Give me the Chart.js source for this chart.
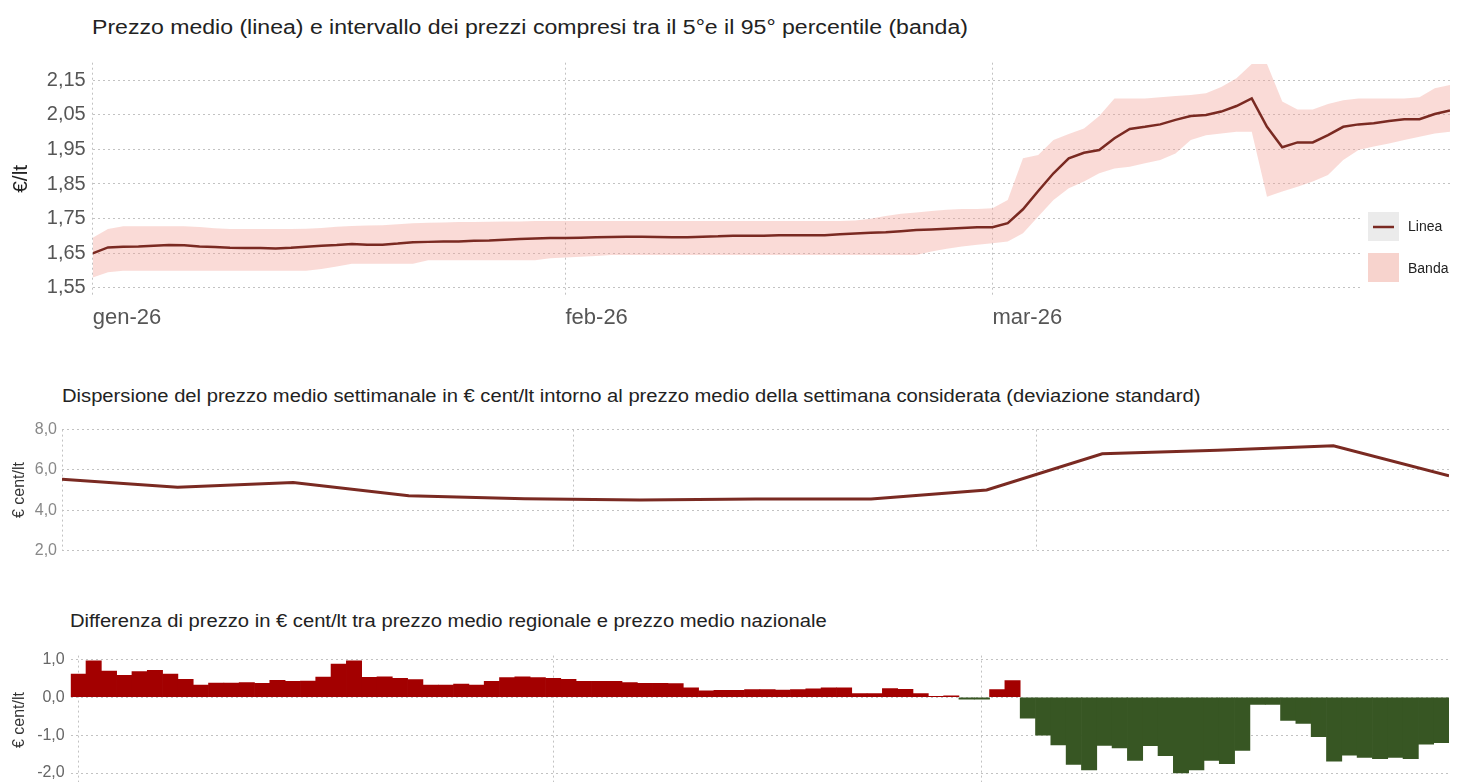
<!DOCTYPE html>
<html lang="it">
<head>
<meta charset="utf-8">
<title>Prezzi carburante</title>
<script src="https://cdn.jsdelivr.net/npm/chart.js@4/dist/chart.umd.min.js"></script>
<style>
	html, body { margin: 0; padding: 0; background: #fff; }
	body { position: relative; width: 1459px; height: 782px; overflow: hidden; font-family: "Liberation Sans", Arial, sans-serif; }
	/* i titoli nel riferimento sono piu' larghi del normale Arial */
	.titolo { position: absolute; white-space: nowrap; line-height: 1; color: #222; transform: scaleX(1.153); transform-origin: left center; }
	.pannello { position: absolute; left: 0; }
	canvas { display: block; }
</style>
</head>
<body>
<div class="titolo" style="left:92px; top:17px; font-size:20px;">Prezzo medio (linea) e intervallo dei prezzi compresi tra il 5°e il 95° percentile (banda)</div>
<div class="pannello" style="top:40px;"><canvas id="prezzo" width="1459" height="300"></canvas></div>

<div class="titolo" style="left:62px; top:388px; font-size:17.5px;">Dispersione del prezzo medio settimanale in € cent/lt intorno al prezzo medio della settimana considerata (deviazione standard)</div>
<div class="pannello" style="top:415px;"><canvas id="dispersione" width="1459" height="150"></canvas></div>

<div class="titolo" style="left:70px; top:613px; font-size:17.5px;">Differenza di prezzo in € cent/lt tra prezzo medio regionale e prezzo medio nazionale</div>
<div class="pannello" style="top:640px;"><canvas id="differenza" width="1459" height="160"></canvas></div>

<script>
// giorni dal 1 gennaio 2026 (0 = 1 gen, 31 = 1 feb, 59 = 1 mar)
const mesi = ['gen-26', 'feb-26', 'mar-26'];
const inizioMese = [0, 31, 59];

// prezzo medio giornaliero, 1 gen - 31 mar (€/lt)
const prezzoMedio = [
	1.650, 1.667, 1.669, 1.670, 1.672, 1.674, 1.673, 1.670, 1.668, 1.666,
	1.665, 1.665, 1.664, 1.666, 1.669, 1.672, 1.674, 1.677, 1.675, 1.675,
	1.678, 1.682, 1.683, 1.684, 1.684, 1.686, 1.687, 1.689, 1.691, 1.693,
	1.694,
	1.694, 1.695, 1.696, 1.697, 1.698, 1.698, 1.697, 1.696, 1.696, 1.698,
	1.699, 1.701, 1.701, 1.701, 1.702, 1.702, 1.702, 1.702, 1.705, 1.707,
	1.709, 1.711, 1.714, 1.717, 1.719, 1.721, 1.723, 1.725,
	1.725, 1.737, 1.777, 1.830, 1.881, 1.924, 1.940, 1.948, 1.982, 2.009,
	2.015, 2.022, 2.035, 2.046, 2.049, 2.059, 2.075, 2.097, 2.015, 1.956,
	1.970, 1.970, 1.991, 2.015, 2.022, 2.025, 2.032, 2.037, 2.037, 2.052,
	2.062
];

// 95° percentile
const percentile95 = [
	1.695, 1.720, 1.728, 1.728, 1.728, 1.728, 1.728, 1.726, 1.722, 1.720,
	1.720, 1.720, 1.720, 1.720, 1.721, 1.723, 1.727, 1.729, 1.730, 1.731,
	1.734, 1.737, 1.738, 1.739, 1.740, 1.740, 1.741, 1.742, 1.742, 1.743,
	1.743,
	1.743, 1.743, 1.743, 1.743, 1.743, 1.743, 1.743, 1.743, 1.743, 1.743,
	1.743, 1.743, 1.743, 1.743, 1.743, 1.743, 1.743, 1.743, 1.743, 1.745,
	1.750, 1.758, 1.764, 1.768, 1.772, 1.776, 1.778, 1.778,
	1.780, 1.804, 1.924, 1.934, 1.977, 1.994, 2.010, 2.046, 2.097, 2.097,
	2.097, 2.100, 2.104, 2.107, 2.112, 2.130, 2.155, 2.196, 2.196, 2.088,
	2.065, 2.065, 2.081, 2.092, 2.097, 2.097, 2.097, 2.097, 2.100, 2.126,
	2.136
];

// 5° percentile
const percentile5 = [
	1.580, 1.595, 1.600, 1.600, 1.600, 1.600, 1.600, 1.600, 1.600, 1.600,
	1.600, 1.600, 1.600, 1.600, 1.600, 1.605, 1.612, 1.620, 1.620, 1.620,
	1.620, 1.620, 1.630, 1.630, 1.630, 1.630, 1.630, 1.630, 1.630, 1.630,
	1.636,
	1.638, 1.640, 1.642, 1.645, 1.645, 1.645, 1.645, 1.645, 1.645, 1.645,
	1.645, 1.645, 1.645, 1.645, 1.645, 1.645, 1.645, 1.645, 1.645, 1.645,
	1.645, 1.645, 1.645, 1.645, 1.655, 1.663, 1.670, 1.675,
	1.679, 1.684, 1.708, 1.756, 1.804, 1.838, 1.857, 1.881, 1.895, 1.900,
	1.910, 1.919, 1.938, 1.977, 1.991, 1.996, 2.001, 2.001, 1.813, 1.828,
	1.842, 1.857, 1.876, 1.919, 1.948, 1.958, 1.967, 1.977, 1.986, 1.996,
	2.001
];
const tickPrezzo = [1.55, 1.65, 1.75, 1.85, 1.95, 2.05, 2.15];

// deviazione standard settimanale (€ cent/lt)
const giorniSettimana = [0, 7, 14, 21, 28, 35, 42, 49, 56, 63, 70, 77, 84];
const dispersione = [5.53, 5.14, 5.37, 4.72, 4.57, 4.50, 4.55, 4.55, 5.00, 6.80, 6.98, 7.20, 5.70];
const tickDispersione = [2, 4, 6, 8];

// differenza regionale - nazionale (€ cent/lt), giornaliera
const differenza = [
	0.61, 0.96, 0.69, 0.58, 0.68, 0.71, 0.61, 0.475, 0.32, 0.375,
	0.375, 0.39, 0.37, 0.45, 0.42, 0.43, 0.53, 0.875, 0.96, 0.525,
	0.54, 0.50, 0.47, 0.32, 0.32, 0.35, 0.32, 0.42, 0.52, 0.54,
	0.52,
	0.50, 0.475, 0.42, 0.42, 0.42, 0.39, 0.37, 0.37, 0.36, 0.25,
	0.17, 0.18, 0.18, 0.20, 0.20, 0.19, 0.20, 0.22, 0.25, 0.25,
	0.10, 0.10, 0.23, 0.21, 0.10, 0.025, 0.04, -0.05,
	-0.05, 0.20, 0.44, -0.55, -1.00, -1.26, -1.77, -1.92, -1.27, -1.34,
	-1.67, -1.28, -1.54, -2.00, -1.92, -1.67, -1.75, -1.40, -0.19, -0.19,
	-0.61, -0.69, -1.04, -1.69, -1.53, -1.59, -1.62, -1.59, -1.62, -1.24,
	-1.20
];
const tickDifferenza = [-2, -1, 0, 1];

const LINEA = '#7a2a22';
const BANDA = 'rgba(242, 160, 150, 0.38)';
const GRIGLIA = '#c2c2c2';
const ROSSO = '#a30000';
const VERDE = '#375623';
const FONT = '"Liberation Sans", Arial, sans-serif';

Chart.defaults.font.family = FONT;
Chart.defaults.animation = false;
Chart.defaults.plugins.legend.display = false;
Chart.defaults.plugins.tooltip.enabled = false;

const punti = (arr, xs) => arr.map((v, i) => ({x: xs ? xs[i] : i, y: v}));
const virgola = (dec) => (v) => Number(v).toFixed(dec).replace('.', ',');
const fissaTick = (valori) => (scale) => { scale.ticks = valori.map(v => ({value: v})); };

//legenda disegnata a mano dentro l'area del grafico, in basso a destra
const legendaPrezzo = {
	id: 'legendaPrezzo',
	afterDraw(chart) {
		const ctx = chart.ctx;
		const ds = chart.data.datasets;
		ctx.save();
		ctx.fillStyle = '#fff';
		ctx.fillRect(1361, 160, 98, 140);
		ctx.fillStyle = '#ebebeb';
		ctx.fillRect(1368, 172, 31, 29);
		ctx.strokeStyle = LINEA;
		ctx.lineWidth = 2.5;
		ctx.beginPath();
		ctx.moveTo(1373, 187);
		ctx.lineTo(1394, 187);
		ctx.stroke();
		ctx.fillStyle = '#f7d3cd';
		ctx.fillRect(1368, 213, 31, 29);
		ctx.fillStyle = '#222';
		ctx.font = '14px ' + FONT;
		ctx.textBaseline = 'middle';
		ctx.fillText(ds[0].label, 1408, 187);
		ctx.fillText(ds[1].label, 1408, 229);
		ctx.restore();
	}
};

new Chart(document.getElementById('prezzo'), {
	type: 'line',
	data: {
		datasets: [
			{label: 'Linea', data: punti(prezzoMedio), borderColor: LINEA, borderWidth: 2.5, pointRadius: 0, order: 0},
			{label: 'Banda', data: punti(percentile95), borderWidth: 0, pointRadius: 0, fill: '+1', backgroundColor: BANDA, order: 1},
			{label: '5° percentile', data: punti(percentile5), borderWidth: 0, pointRadius: 0, fill: false, order: 2}
		]
	},
	options: {
		responsive: false,
		layout: {padding: {top: 22.7, right: 9, left: 0}},
		scales: {
			x: {
				type: 'linear', min: 0, max: 89,
				afterBuildTicks: fissaTick(inizioMese),
				afterFit: s => { s.height = 45.1; },
				ticks: {callback: v => mesi[inizioMese.indexOf(v)], align: 'start', color: '#555', font: {size: 22}, padding: 10, maxRotation: 0, autoSkip: false},
				grid: {color: GRIGLIA, drawTicks: false},
				border: {display: false, dash: [2, 3]}
			},
			y: {
				min: 1.53, max: 2.2,
				afterBuildTicks: fissaTick(tickPrezzo),
				afterFit: s => { s.width = 92.7; },
				ticks: {callback: virgola(2), color: '#555', font: {size: 20}, padding: 7},
				grid: {color: GRIGLIA, drawTicks: false},
				border: {display: false, dash: [2, 3]},
				title: {display: true, text: '€/lt', color: '#222', font: {size: 21}, padding: {top: 9}}
			}
		}
	},
	plugins: [legendaPrezzo]
});

new Chart(document.getElementById('dispersione'), {
	type: 'line',
	data: {
		datasets: [
			{label: 'Deviazione standard', data: punti(dispersione, giorniSettimana), borderColor: LINEA, borderWidth: 3, pointRadius: 0}
		]
	},
	options: {
		responsive: false,
		layout: {padding: {top: 14, right: 10}},
		scales: {
			x: {
				type: 'linear', min: 0, max: 84,
				afterBuildTicks: fissaTick(inizioMese),
				afterFit: s => { s.height = 12; },
				ticks: {display: false},
				grid: {color: GRIGLIA, drawTicks: false},
				border: {display: false, dash: [2, 3]}
			},
			y: {
				min: 2, max: 8,
				afterBuildTicks: fissaTick(tickDispersione),
				afterFit: s => { s.width = 62; },
				ticks: {callback: virgola(1), color: '#888', font: {size: 16}, padding: 5},
				grid: {color: GRIGLIA, drawTicks: false},
				border: {display: false, dash: [2, 3]},
				title: {display: true, text: '€ cent/lt', color: '#333', font: {size: 16}, padding: {top: 10}}
			}
		}
	}
});

new Chart(document.getElementById('differenza'), {
	type: 'bar',
	data: {
		labels: differenza.map((v, i) => i),
		datasets: [
			{label: 'Differenza', data: differenza, backgroundColor: differenza.map(v => v >= 0 ? ROSSO : VERDE), barPercentage: 1, categoryPercentage: 1, borderWidth: 0}
		]
	},
	options: {
		responsive: false,
		layout: {padding: {top: 7.9, right: 10}},
		scales: {
			x: {
				afterBuildTicks: fissaTick(inizioMese),
				afterFit: s => { s.height = 11.6; },
				ticks: {display: false},
				grid: {color: GRIGLIA, drawTicks: false, offset: false},
				border: {display: false, dash: [2, 3]}
			},
			y: {
				min: -2.3, max: 1.1,
				afterBuildTicks: fissaTick(tickDifferenza),
				afterFit: s => { s.width = 70.7; },
				ticks: {callback: virgola(1), color: '#666', font: {size: 16}, padding: 6},
				grid: {color: GRIGLIA, drawTicks: false},
				border: {display: false, dash: [2, 3]},
				title: {display: true, text: '€ cent/lt', color: '#333', font: {size: 16}, padding: {top: 10}}
			}
		}
	}
});
</script>
</body>
</html>
